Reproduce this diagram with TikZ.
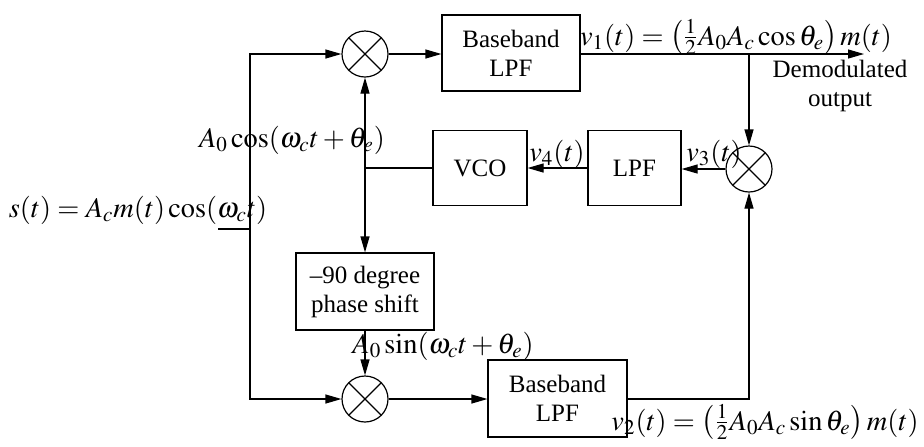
\documentclass[tikz,border=0pt]{standalone}
\usepackage{amsmath}
\usepackage{mathptmx}
\usepackage[no-math]{fontspec}
\setmainfont{Liberation Serif}
\usetikzlibrary{arrows.meta}
\begin{document}
\begin{tikzpicture}[x=0.5pt,y=-0.5pt,
  every node/.style={font=\fontsize{12.5}{14.5}\selectfont},
  line width=0.6pt,
  blk/.style={draw, line width=0.6pt, align=center, inner sep=0pt},
  mult/.style={draw, circle, minimum size=23pt, inner sep=0pt,
    path picture={\draw (path picture bounding box.south west) -- (path picture bounding box.north east)
      (path picture bounding box.north west) -- (path picture bounding box.south east);}},
  arr/.style={-{Triangle[length=8pt,width=4.5pt]}},
  lbl/.style={inner sep=0pt, font=\fontsize{14.2}{16}\selectfont}]
\useasboundingbox (0,0) rectangle (924,446);

% blocks
\node[mult] (m1) at (365,54) {};
\node[mult] (m2) at (749,169) {};
\node[mult] (m3) at (365,399) {};
\node[blk, minimum width=69pt, minimum height=38pt] (bb1) at (511,53) {Baseband\\LPF};
\node[blk, minimum width=46.5pt, minimum height=37.5pt] (lpf) at (634.5,168) {LPF};
\node[blk, minimum width=47pt, minimum height=37.5pt] (vco) at (480,168) {VCO};
\node[blk, minimum width=69pt, minimum height=38.5pt] (ps) at (365,291.5) {--90 degree\\phase shift};
\node[blk, minimum width=69.5pt, minimum height=38.5pt] (bb2) at (557.5,398.5) {Baseband\\LPF};

% coordinates
\coordinate (sin) at (218,229);
\coordinate (j) at (250,229);
\coordinate (out) at (864,54);
\coordinate (tap) at (749,54);
\coordinate (k) at (365,168);

% connectors
\draw (sin) -- (j);
\draw[arr] (j) |- (m1);
\draw[arr] (j) |- (m3);
\draw[arr] (m1) -- (bb1.west |- m1);
\draw[arr] (bb1.east |- out) -- (out);
\draw[arr] (tap) -- (m2);
\draw[arr] (m2) -- (lpf.east |- m2);
\draw[arr] (lpf) -- (vco);
\draw (vco) -- (k);
\draw[arr] (k) -- (m1);
\draw[arr] (k) -- (ps);
\draw[arr] (ps) -- (m3);
\draw[arr] (m3) -- (bb2.west |- m3);
\draw[arr] (bb2.east |- m3) -| (m2);

% labels
\node[lbl] (ls) at (138,210) {$s(t) = A_c m(t)\cos(\omega_c t)$};
\node[lbl] (lc) at (292,140) {$A_0\cos(\omega_c t + \theta_e)$};
\node[lbl] (lsn) at (443,346) {$A_0\sin(\omega_c t + \theta_e)$};
\node[lbl, anchor=base] (l1) at (736,45) {$v_1(t) = \bigl(\tfrac{1}{2}A_0 A_c\cos\theta_e\bigr)\,m(t)$};
\node[lbl, anchor=base] (l2) at (765,430) {$v_2(t) = \bigl(\tfrac{1}{2}A_0 A_c\sin\theta_e\bigr)\,m(t)$};
\node[lbl] (l3) at (714,154) {$v_3(t)$};
\node[lbl] (l4) at (557,154) {$v_4(t)$};
\node[align=center] (ld) at (840,86) {Demodulated\\output};
\end{tikzpicture}
\end{document}
